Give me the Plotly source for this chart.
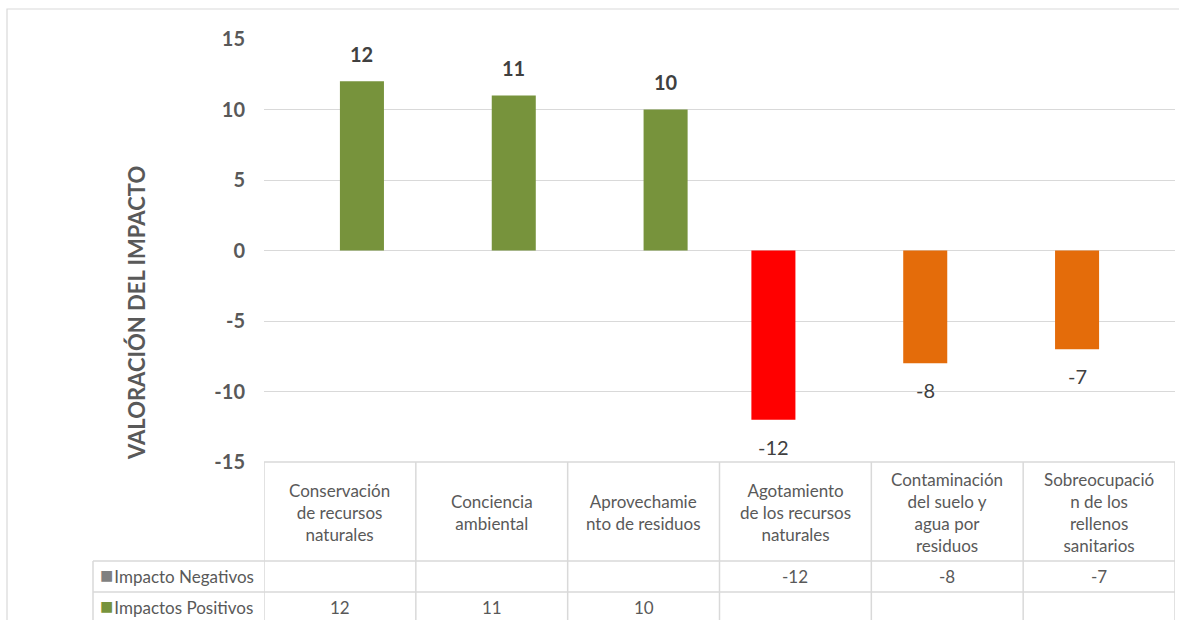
import plotly.graph_objects as go

W, H = 1179, 620

categories = [
    "Conservación de recursos naturales",
    "Conciencia ambiental",
    "Aprovechamiento de residuos",
    "Agotamiento de los recursos naturales",
    "Contaminación del suelo y agua por residuos",
    "Sobreocupación de los rellenos sanitarios",
]
header_labels = [
    "Conservación<br>de recursos<br>naturales",
    "Conciencia<br>ambiental",
    "Aprovechamie<br>nto de residuos",
    "Agotamiento<br>de los recursos<br>naturales",
    "Contaminación<br>del suelo y<br>agua por<br>residuos",
    "Sobreocupació<br>n de los<br>rellenos<br>sanitarios",
]
negativos = [None, None, None, -12, -8, -7]
positivos = [12, 11, 10, None, None, None]
neg_colors = ["#FF0000", "#FF0000", "#FF0000", "#FF0000", "#E46C0A", "#E46C0A"]
series_names = ["Impacto Negativos", "Impactos Positivos"]
y_ticks = [-15, -10, -5, 0, 5, 10, 15]
y_tick_labels = ["-15", "-10", "-5", "0", "5", "10", "15"]

FONT = "Lato"
GRID = "#D9D9D9"
TXT = "#595959"
LBL = "#404040"
bargap = 0.42


def px(x):
    return x / W


def py(y):
    return 1 - y / H


fig = go.Figure()
fig.add_trace(go.Bar(x=categories, y=negativos, name=series_names[0],
                     marker=dict(color=neg_colors, line=dict(width=0))))
fig.add_trace(go.Bar(x=categories, y=positivos, name=series_names[1],
                     marker=dict(color="#77933C", line=dict(width=0))))

annotations = []
off = (1 - bargap) / 4
for i, v in enumerate(positivos):
    if v is not None:
        annotations.append(dict(x=i + off, y=v, xref="x", yref="y", text=str(v),
                                showarrow=False, yshift=27, xanchor="center", yanchor="middle",
                                font=dict(family=FONT, size=20, color=LBL, weight="bold")))
for i, v in enumerate(negativos):
    if v is not None:
        annotations.append(dict(x=i - off, y=v, xref="x", yref="y", text=str(v),
                                showarrow=False, yshift=-27, xanchor="center", yanchor="middle",
                                font=dict(family=FONT, size=20, color=LBL)))

# axis title
annotations.append(dict(x=px(136), y=py(313), xref="paper", yref="paper",
                        xanchor="center", yanchor="middle",
                        text="VALORACIÓN DEL IMPACTO", textangle=-90, showarrow=False,
                        font=dict(family=FONT, size=22, color=TXT, weight="bold")))

# table header texts
for i, lab in enumerate(header_labels):
    annotations.append(dict(x=i, y=py(512), xref="x", yref="paper", text=lab,
                            xanchor="center", yanchor="middle",
                            showarrow=False, align="center",
                            font=dict(family=FONT, size=17, color=TXT)))

row_y = [py(576), py(607)]
key_colors = ["#808080", "#77933C"]
for r, (name, vals) in enumerate(zip(series_names, [negativos, positivos])):
    annotations.append(dict(x=px(98), y=row_y[r], xref="paper", yref="paper",
                            xanchor="left", yanchor="middle", yshift=2,
                            text=(f"<span style='color:{key_colors[r]};font-size:22px'>■</span>"
                                  f"<span style='font-size:4px'> </span>{name}"),
                            showarrow=False, font=dict(family=FONT, size=17, color=TXT)))
    for i, v in enumerate(vals):
        if v is not None:
            annotations.append(dict(x=i, y=row_y[r], xref="x", yref="paper", text=str(v),
                                    xanchor="center", yanchor="middle",
                                    showarrow=False, font=dict(family=FONT, size=17, color=TXT)))

shapes = []
line = dict(color=GRID, width=1.5)
# outer border
shapes.append(dict(type="rect", xref="paper", yref="paper", x0=px(7), x1=1.02,
                   y0=-0.05, y1=py(9), line=dict(color=GRID, width=1.2)))
# table lines
shapes.append(dict(type="line", xref="x", yref="paper", x0=-0.5, x1=len(categories) - 0.5,
                   y0=py(462), y1=py(462), line=line))
for yy in [561, 592]:
    shapes.append(dict(type="line", xref="paper", yref="paper", x0=px(93), x1=px(1175),
                       y0=py(yy), y1=py(yy), line=line))
shapes.append(dict(type="line", xref="paper", yref="paper", x0=px(93), x1=px(93),
                   y0=py(561), y1=-0.05, line=line))
for i in range(len(categories) + 1):
    shapes.append(dict(type="line", xref="x", yref="paper", x0=i - 0.5, x1=i - 0.5,
                       y0=py(462), y1=-0.05, line=line))

fig.update_layout(
    width=W, height=H, autosize=False,
    margin=dict(l=0, r=0, t=0, b=0, pad=0, autoexpand=False),
    paper_bgcolor="white", plot_bgcolor="white",
    barmode="group", bargap=bargap, bargroupgap=0,
    showlegend=False,
    xaxis=dict(domain=[px(264), px(1175)], range=[-0.5, len(categories) - 0.5],
               showticklabels=False, showgrid=False, zeroline=False, showline=False,
               automargin=False, fixedrange=True),
    yaxis=dict(domain=[py(462), py(39)], range=[-15, 15], tickvals=y_ticks,
               ticktext=y_tick_labels,
               showgrid=True, gridcolor=GRID, gridwidth=1.3, zeroline=False,
               showline=False, ticks="", ticklabelstandoff=18, automargin=False,
               tickfont=dict(family=FONT, size=20, color=TXT, weight="bold")),
    annotations=annotations,
    shapes=shapes,
    font=dict(family=FONT),
)

fig.write_html("out.html", config={"displayModeBar": False},
               post_script="document.body.style.margin='0';")
